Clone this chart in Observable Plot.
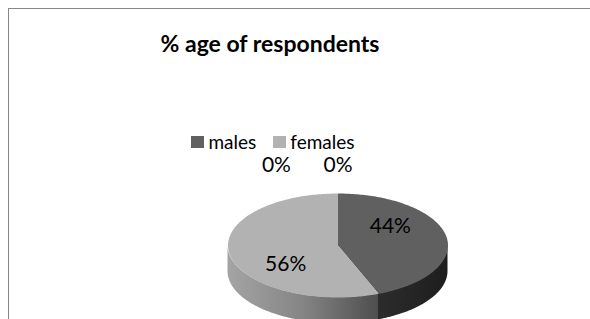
<!DOCTYPE html>
<html><head><meta charset="utf-8">
<script src="https://cdn.jsdelivr.net/npm/d3@7"></script>
<script src="https://cdn.jsdelivr.net/npm/@observablehq/plot@0.6"></script>
<style>
html,body{margin:0;padding:0;background:#fff;width:590px;height:319px;overflow:hidden;font-family:Lato,"Open Sans",sans-serif;}
#frame{position:absolute;left:8px;top:8px;width:620px;height:340px;border:1px solid #878787;box-sizing:border-box;}
#title{position:absolute;left:0;top:32px;width:540px;text-align:center;font-weight:bold;font-size:23px;font-family:Lato,sans-serif;color:#000;line-height:1;}
#legend{position:absolute;left:0;top:125px;width:546px;display:flex;justify-content:center;}
#legend svg{margin-right:4px !important;}
#legend span{margin-right:17px !important;}
#legend span:last-of-type{margin-right:0 !important;}
#chart{position:absolute;left:0;top:150px;}
</style></head><body>
<div id="frame"></div>
<div id="title">% age of respondents</div>
<div id="legend"></div>
<div id="chart"></div>
<script>
// ---- data ----
const categories = ["males", "females", "", ""];
const values = [44, 56, 0, 0];
const legendCategories = ["males", "females"];
const sliceColors = ["#606060", "#b2b2b2"];

// ---- geometry (layout only) ----
const W = 590, H = 169;
const cx = 337.5, cy = 95, rx = 110, ry = 52, depthPx = 26;
const depth = depthPx / ry;
const step = Math.PI / 180;

const total = d3.sum(values);
const arcs = d3.pie().sort(null).value(d => d)(values);

function sample(a0, a1) {
  const n = Math.max(2, Math.ceil((a1 - a0) / step) + 1);
  return d3.range(n).map(k => a0 + (a1 - a0) * k / (n - 1));
}

// top faces
const topPts = [];
arcs.forEach((a, i) => {
  if (a.value <= 0) return;
  topPts.push({cat: categories[i], x: 0, y: 0});
  for (const t of sample(a.startAngle, a.endAngle)) topPts.push({cat: categories[i], x: Math.sin(t), y: Math.cos(t)});
});

// side walls (front half only)
const sideFills = ["url(#gMale)", "url(#gFemale)"];
const sides = [];
arcs.forEach((a, i) => {
  if (a.value <= 0) return;
  const s = Math.max(a.startAngle, Math.PI / 2), e = Math.min(a.endAngle, 3 * Math.PI / 2);
  if (e <= s) return;
  sides.push({fill: sideFills[i], pts: sample(s, e).map(t => ({x: Math.sin(t), y1: Math.cos(t), y2: Math.cos(t) - depth}))});
});

// labels: placed along the slice's mid-angle as seen on screen (projected ellipse)
function screenAngle(t) { return Math.atan2(-Math.cos(t) * ry, Math.sin(t) * rx); }
const nZero = values.filter(v => v === 0).length;
let zeroSeen = 0;
const labels = arcs.map((a, i) => {
  const text = Math.round(a.value / total * 100) + "%";
  if (a.value > 0) {
    let s0 = screenAngle(a.startAngle), s1 = screenAngle(a.endAngle);
    while (s1 <= s0) s1 += 2 * Math.PI;
    const m = (s0 + s1) / 2;
    const dxs = Math.cos(m), dys = Math.sin(m);
    const rad = 1 / Math.sqrt((dxs / rx) ** 2 + (dys / ry) ** 2);
    const r = 0.6;
    return {text, x: r * rad * dxs / rx, y: -r * rad * dys / ry};
  }
  zeroSeen++;
  const k = nZero - zeroSeen;
  return {text, x: Math.sin(a.startAngle) - k * 0.56, y: 1.55};
});

const plot = Plot.plot({
  width: W, height: H, margin: 0,
  x: {domain: [-1, 1], range: [cx - rx, cx + rx], axis: null},
  y: {domain: [-1, 1], range: [cy + ry, cy - ry], axis: null},
  color: {domain: legendCategories, range: sliceColors},
  style: {background: "transparent", overflow: "visible"},
  marks: [
    ...sides.map(s => Plot.areaY(s.pts, {x: "x", y1: "y1", y2: "y2", fill: s.fill, curve: "linear"})),
    Plot.line(topPts, {x: "x", y: "y", z: "cat", fill: "cat", stroke: "none", curve: "linear"}),
    Plot.text(labels, {x: "x", y: "y", text: "text", fontSize: 21, fontFamily: "Lato", fill: "#000", textAnchor: "middle", lineAnchor: "middle"})
  ]
});

const defs = d3.select(plot).insert("defs", ":first-child");
const gm = defs.append("linearGradient").attr("id", "gMale").attr("x1", 0).attr("x2", 1).attr("y1", 0).attr("y2", 0);
gm.append("stop").attr("offset", 0).attr("stop-color", "#2c2c2c");
gm.append("stop").attr("offset", 1).attr("stop-color", "#1e1e1e");
const gf = defs.append("linearGradient").attr("id", "gFemale").attr("x1", 0).attr("x2", 1).attr("y1", 0).attr("y2", 0);
gf.append("stop").attr("offset", 0).attr("stop-color", "#a4a4a4");
gf.append("stop").attr("offset", 0.5).attr("stop-color", "#858585");
gf.append("stop").attr("offset", 1).attr("stop-color", "#4e4e4e");

document.getElementById("chart").appendChild(plot);

const legend = plot.legend("color", {swatchWidth: 13, swatchHeight: 12});
legend.style.fontFamily = "Lato, sans-serif";
legend.style.fontSize = "19px";
legend.style.color = "#000";
legend.style.margin = "0";
document.getElementById("legend").appendChild(legend);
</script>
</body></html>
